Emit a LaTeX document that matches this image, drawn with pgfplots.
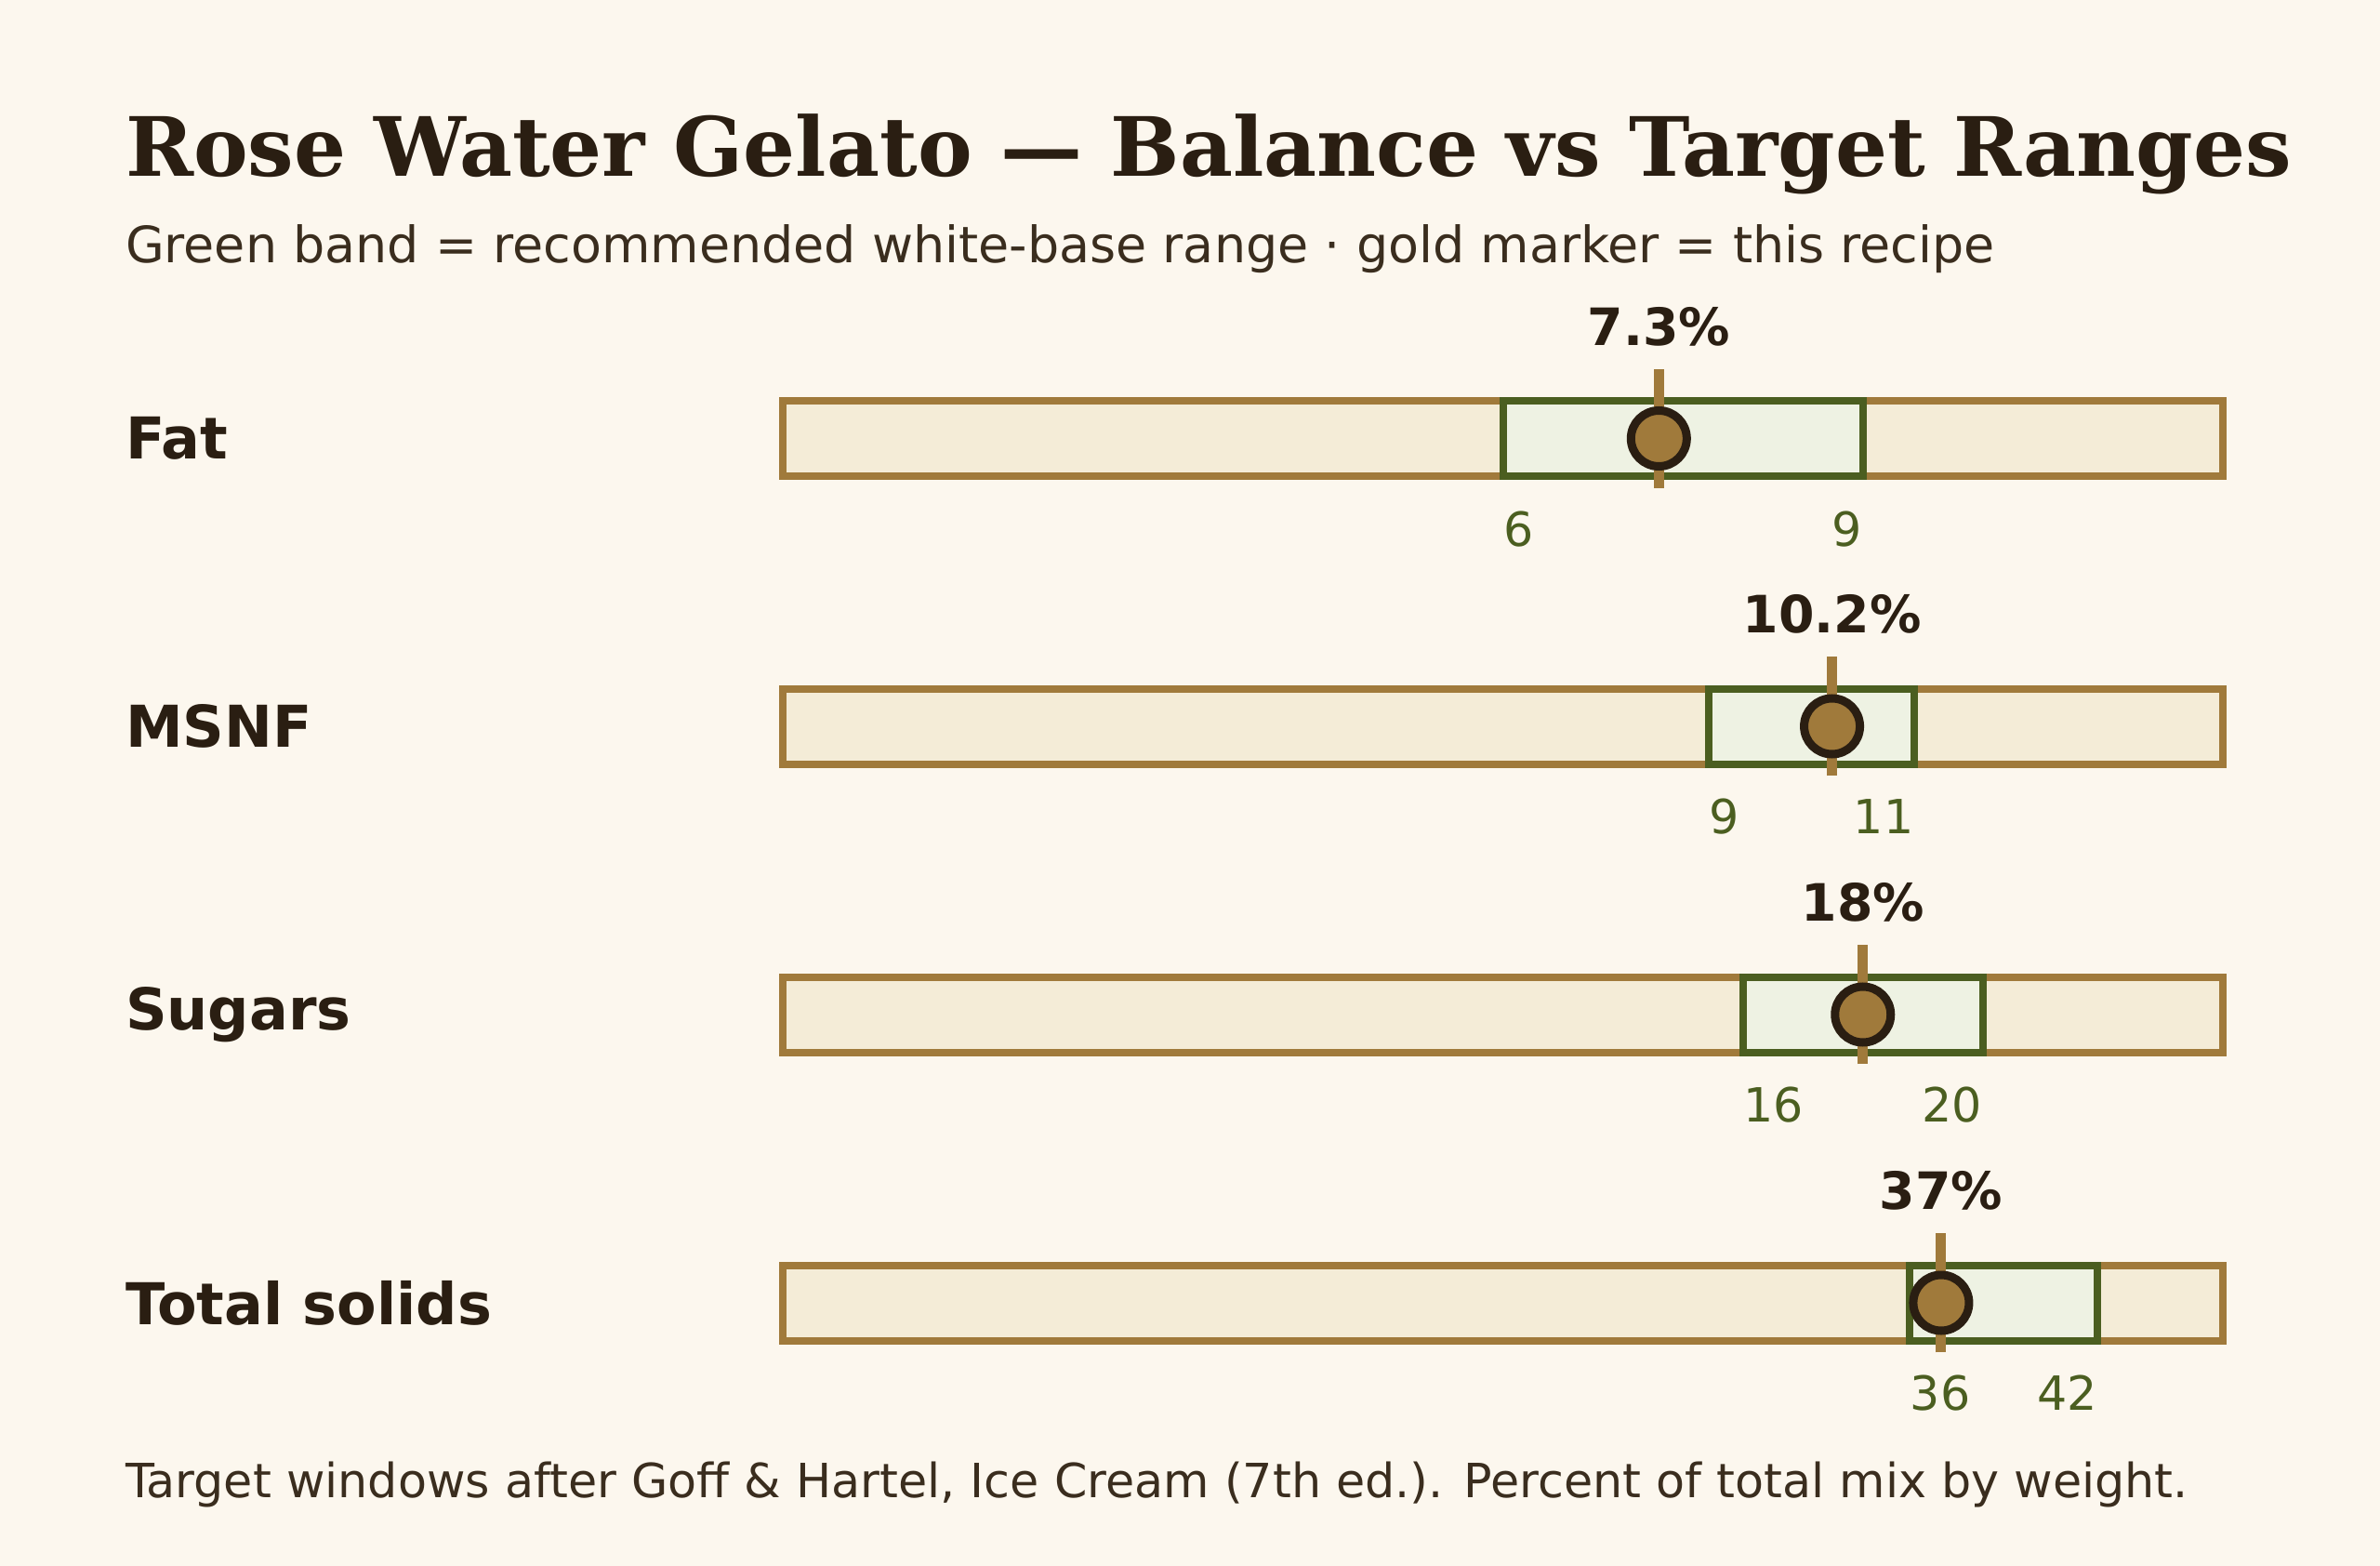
\documentclass[border=0pt]{standalone}
\usepackage{pgfplots}
\pgfplotsset{compat=1.18}
\usepackage{fontspec}
\setmainfont{DejaVu Sans}
\newfontfamily\seriffont{DejaVu Serif}

\definecolor{paper}{HTML}{FCF7EE}
\definecolor{track}{HTML}{F4ECD7}
\definecolor{gold}{HTML}{A07A3B}
\definecolor{olive}{HTML}{4B5E20}
\definecolor{band}{HTML}{EEF2E3}
\definecolor{ink}{HTML}{2A1E12}
\definecolor{inksoft}{HTML}{3A2D1E}

% One bullet row: #1 centre (pt below top), #2 label, #3 scale max,
% #4 range low, #5 range high, #6 recipe value, #7 value text
\newcommand{\bulletrow}[7]{%
  \node[anchor=west, inner sep=0pt, text=ink,
        font=\bfseries\fontsize{18.6}{18.6}\selectfont] at (40.3pt,-#1pt) {#2};
  \begin{axis}[at={(252.6pt,-#1pt)}, anchor=west,
      scale only axis, width=464.7pt, height=24.3pt,
      xmin=0, xmax=#3, ymin=0, ymax=1,
      hide axis, clip=false]
    \addplot[draw=gold, fill=track, line width=2.4pt]
      coordinates {(0,0) (#3,0) (#3,1) (0,1)} -- cycle;
    \addplot[draw=olive, fill=band, line width=2.4pt]
      coordinates {(#4,0) (#5,0) (#5,1) (#4,1)} -- cycle;
    \addplot[gold, line width=3.3pt] coordinates {(#6,-0.16) (#6,1.42)};
    \addplot[only marks, mark=*, mark size=9pt,
      mark options={draw=ink, fill=gold, line width=2.7pt}]
      coordinates {(#6,0.5)};
    \node[anchor=base, inner sep=0pt, text=ink,
          font=\bfseries\fontsize{16.6}{16.6}\selectfont] at (axis cs:#6,1.735) {#7};
    \node[anchor=base west, inner sep=0pt, text=olive,
          font=\fontsize{15.2}{15.2}\selectfont] at (axis cs:#4,-0.928) {#4};
    \node[anchor=base east, inner sep=0pt, text=olive,
          font=\fontsize{15.2}{15.2}\selectfont] at (axis cs:#5,-0.928) {#5};
  \end{axis}
}

\begin{document}
\begin{tikzpicture}
  \fill[paper] (0,0) rectangle (768pt,-505.2pt);

  \node[anchor=base west, inner sep=0pt, text=ink,
        font=\seriffont\bfseries\fontsize{26.4}{26.4}\selectfont]
    at (40.3pt,-57pt) {Rose Water Gelato — Balance vs Target Ranges};
  \node[anchor=base west, inner sep=0pt, text=inksoft,
        font=\fontsize{16.17}{16.17}\selectfont]
    at (40.3pt,-84.9pt) {Green band = recommended white-base range · gold marker = this recipe};

  \bulletrow{141.45}{Fat}{12}{6}{9}{7.3}{7.3\%}
  \bulletrow{234.3}{MSNF}{14}{9}{11}{10.2}{10.2\%}
  \bulletrow{327.3}{Sugars}{24}{16}{20}{18}{18\%}
  \bulletrow{420.3}{Total solids}{46}{36}{42}{37}{37\%}

  \node[anchor=base west, inner sep=0pt, text=inksoft,
        font=\fontsize{15.22}{15.22}\selectfont]
    at (40.3pt,-483.2pt) {Target windows after Goff \& Hartel, Ice Cream (7th ed.). Percent of total mix by weight.};
\end{tikzpicture}
\end{document}
